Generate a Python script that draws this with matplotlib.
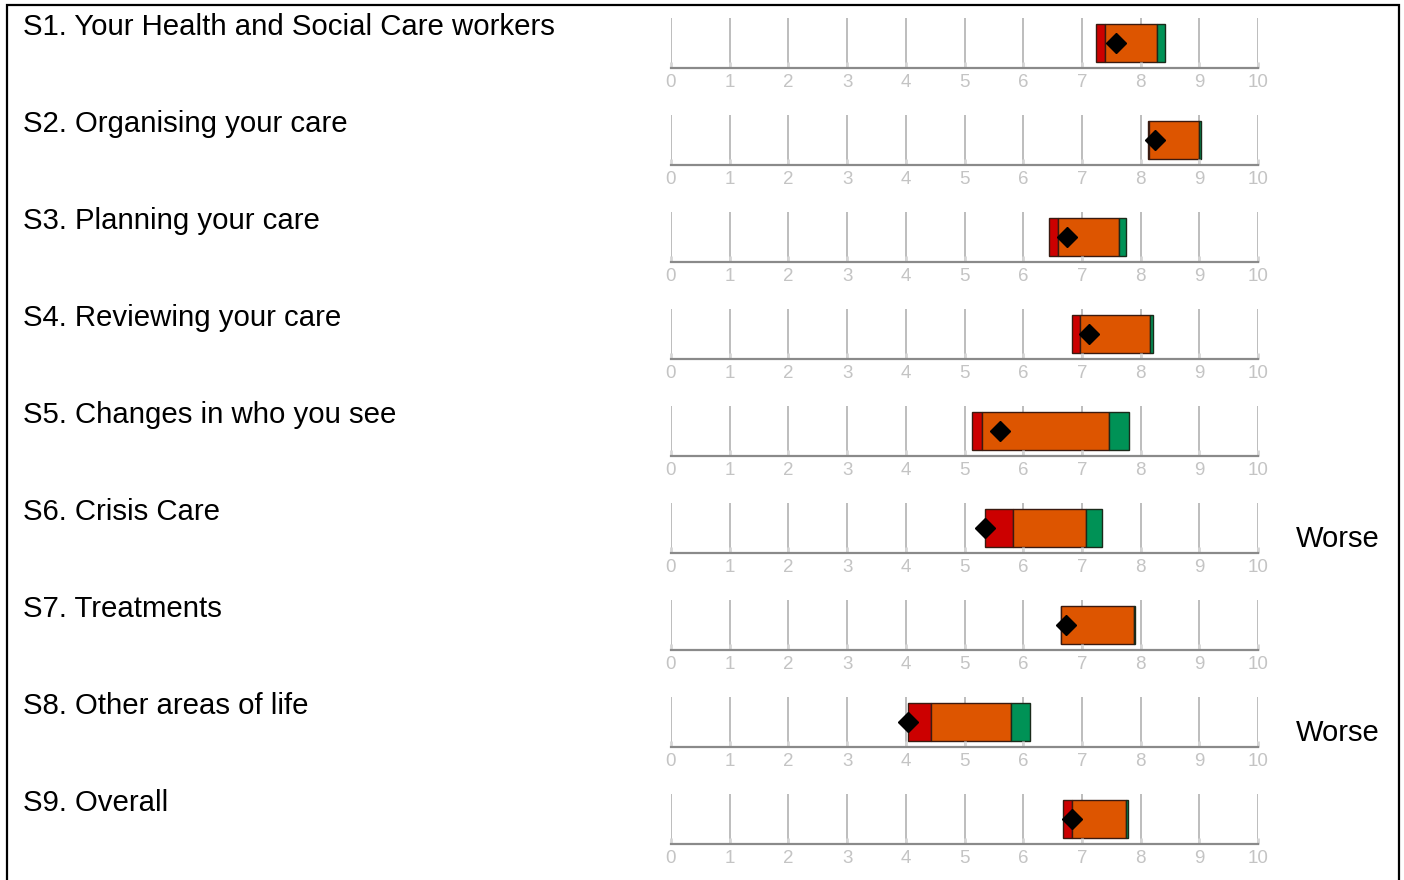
import matplotlib.pyplot as plt
from matplotlib.patches import Rectangle

plt.rcParams['font.family'] = ['Liberation Sans', 'DejaVu Sans']

# Данные
sections = ['S1. Your Health and Social Care workers', 'S2. Organising your care',
            'S3. Planning your care', 'S4. Reviewing your care',
            'S5. Changes in who you see', 'S6. Crisis Care', 'S7. Treatments',
            'S8. Other areas of life', 'S9. Overall']
low = [7.24, 8.13, 6.44, 6.83, 5.13, 5.35, 6.64, 4.04, 6.67]       # начало красной части
mid_lo = [7.39, 8.14, 6.59, 6.97, 5.30, 5.83, 6.65, 4.43, 6.83]    # начало оранжевой части
mid_hi = [8.28, 9.00, 7.63, 8.16, 7.46, 7.07, 7.89, 5.80, 7.75]    # конец оранжевой части
high = [8.42, 9.03, 7.75, 8.21, 7.80, 7.34, 7.91, 6.12, 7.78]      # конец зелёной части
score = [7.58, 8.25, 6.75, 7.12, 5.60, 5.35, 6.73, 4.04, 6.83]     # ромб
flag = ['', '', '', '', '', 'Worse', '', 'Worse', '']
ticks = list(range(11))

RED, ORANGE, GREEN = '#cc0000', '#dd5500', '#009256'

W, H = 1404, 880
fig = plt.figure(figsize=(W / 100, H / 100), dpi=100)

# рамка вокруг всего
fig.add_artist(Rectangle((7 / W, -0.01), (1399 - 7) / W, 1 - 5 / H + 0.01,
                         transform=fig.transFigure, fill=False, ec='black', lw=1.6))

pitch = 97
for i, name in enumerate(sections):
    top = 18 + pitch * i
    base = 68 + pitch * i
    ax = fig.add_axes([671 / W, 1 - base / H, (1258 - 671) / W, (base - top) / H])
    ax.set_xlim(0, 10)
    ax.set_ylim(0, 1)
    ax.vlines(ticks, 0, 1, color='#bdbdbd', lw=1.4, zorder=0)
    b0, b1 = 0.12, 0.76
    ax.barh(b0 + b1 / 2, mid_lo[i] - low[i], left=low[i], height=b1, color=RED, ec='#3a1a10', lw=1)
    ax.barh(b0 + b1 / 2, mid_hi[i] - mid_lo[i], left=mid_lo[i], height=b1, color=ORANGE, ec='#3a1a10', lw=1)
    ax.barh(b0 + b1 / 2, high[i] - mid_hi[i], left=mid_hi[i], height=b1, color=GREEN, ec='#1a2a1a', lw=1)
    ax.plot(score[i], 0.5, marker='D', ms=10, color='black', zorder=5)
    for s in ['top', 'left', 'right']:
        ax.spines[s].set_visible(False)
    ax.spines['bottom'].set_color('#8a8a8a')
    ax.spines['bottom'].set_linewidth(1.6)
    ax.set_yticks([])
    ax.set_xticks(ticks)
    ax.set_xticklabels([str(t) for t in ticks])
    ax.tick_params(axis='x', direction='in', length=4, color='#d6d6d6', width=2,
                   labelcolor='#c4c4c4', labelsize=13.5, pad=4)
    fig.text(23 / W, 1 - (27 + pitch * i) / H, name, fontsize=21.2, va='center', ha='left')
    if flag[i]:
        fig.text(1296 / W, 1 - (54 + pitch * i) / H, flag[i], fontsize=21, va='center', ha='left')

fig.savefig('out.png', dpi=100)
